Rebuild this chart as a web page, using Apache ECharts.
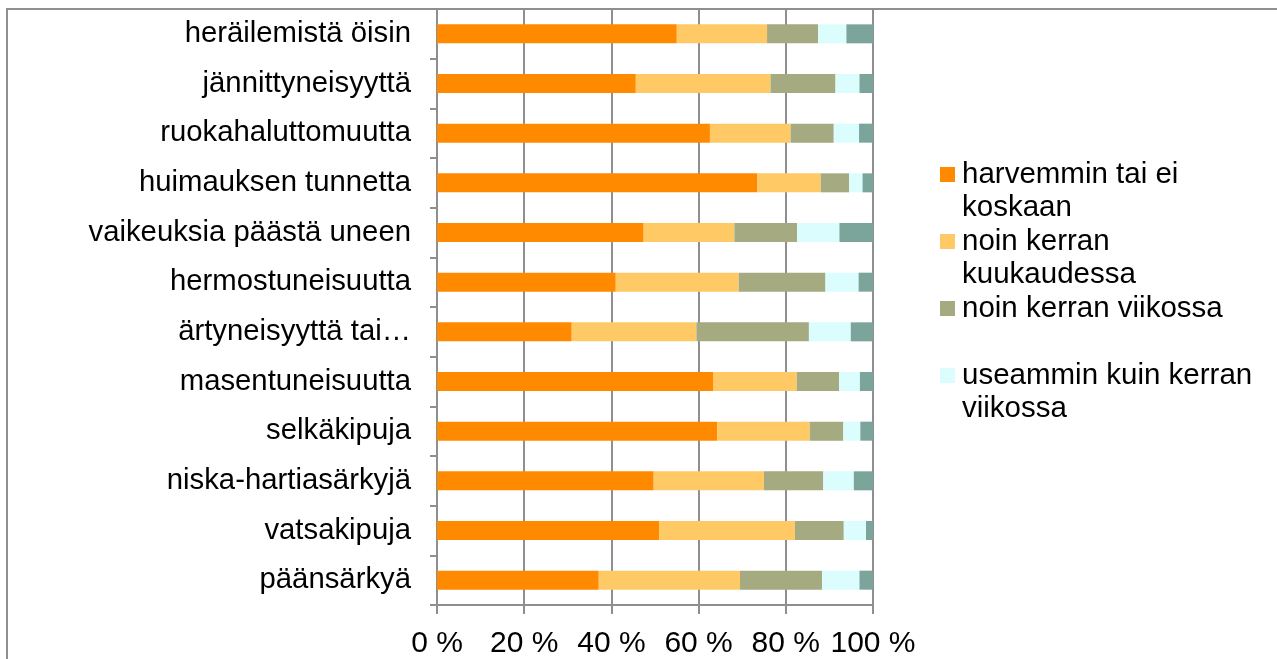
<!DOCTYPE html>
<html>
<head>
<meta charset="utf-8">
<script src="https://cdn.jsdelivr.net/npm/echarts@6/dist/echarts.min.js"></script>
<style>
html,body{margin:0;padding:0;background:#fff;}
#chart{width:1277px;height:659px;}
</style>
</head>
<body>
<div id="chart"></div>
<script>
const categories = ['heräilemistä öisin','jännittyneisyyttä','ruokahaluttomuutta','huimauksen tunnetta','vaikeuksia päästä uneen','hermostuneisuutta','ärtyneisyyttä tai…','masentuneisuutta','selkäkipuja','niska-hartiasärkyjä','vatsakipuja','päänsärkyä'];
const seriesNames = ['harvemmin tai ei koskaan','noin kerran kuukaudessa','noin kerran viikossa','useammin kuin kerran viikossa','päivittäin'];
const legendLabels = ['harvemmin tai ei\nkoskaan','noin kerran\nkuukaudessa','noin kerran viikossa\n ','useammin kuin kerran\nviikossa'];
const harvemmin = [55.0, 45.6, 62.6, 73.5, 47.4, 41.0, 30.9, 63.3, 64.3, 49.7, 51.0, 37.1];
const kuukaudessa = [20.7, 30.9, 18.5, 14.5, 20.8, 28.2, 28.6, 19.2, 21.2, 25.3, 31.1, 32.4];
const viikossa = [11.7, 14.9, 9.9, 6.5, 14.4, 19.9, 25.8, 9.7, 7.7, 13.6, 11.2, 18.8];
const useammin = [6.5, 5.5, 5.8, 3.1, 9.7, 7.6, 9.6, 4.8, 3.9, 7.0, 5.1, 8.6];
const paivittain = [6.1, 3.1, 3.2, 2.4, 7.7, 3.3, 5.1, 3.0, 2.9, 4.4, 1.6, 3.1];
const xTickLabels = ['0 %','20 %','40 %','60 %','80 %','100 %'];
const colors = ['#FF8A00','#FFCA66','#A5AA80','#DCFDFD','#7BA59A'];

const seriesData = [harvemmin, kuukaudessa, viikossa, useammin, paivittain];
const gray = '#8f8f8f';
const font = 'Liberation Sans, Arial, sans-serif';

const chart = echarts.init(document.getElementById('chart'));
chart.setOption({
  animation: false,
  textStyle: { fontFamily: font },
  grid: { left: 437, right: 404, top: 9, bottom: 53, containLabel: false },
  graphic: [
    { type: 'line', shape: { x1: 7, y1: 9, x2: 7, y2: 700 }, style: { stroke: gray, lineWidth: 2 }, z: 100 },
    { type: 'line', shape: { x1: 6, y1: 9, x2: 1300, y2: 9 }, style: { stroke: gray, lineWidth: 2 }, z: 100 }
  ],
  legend: {
    orient: 'vertical',
    left: 940,
    top: 158,
    padding: 0,
    itemGap: 1,
    itemWidth: 17,
    itemHeight: 66,
    icon: 'path://M0,9L15,9L15,24L0,24Z M0,0 M17,66',
    data: seriesNames.slice(0, 4),
    formatter: function (name) { return legendLabels[seriesNames.indexOf(name)]; },
    textStyle: { fontFamily: font, fontSize: 29.5, lineHeight: 33, color: '#000' }
  },
  xAxis: {
    type: 'value',
    min: 0, max: 100, interval: 20,
    axisLine: { show: true, lineStyle: { color: gray, width: 2 } },
    axisTick: { show: true, length: 9, lineStyle: { color: gray, width: 2 } },
    splitLine: { show: true, lineStyle: { color: gray, width: 2 } },
    axisLabel: {
      margin: 24,
      fontFamily: font, fontSize: 30, color: '#000',
      formatter: function (v) { return xTickLabels[Math.round(v / 20)]; }
    }
  },
  yAxis: {
    type: 'category',
    inverse: true,
    data: categories,
    axisLine: { show: true, lineStyle: { color: gray, width: 2 } },
    axisTick: { show: true, length: 7, lineStyle: { color: gray, width: 2 } },
    axisLabel: { margin: 26, fontFamily: font, fontSize: 29.3, color: '#000' }
  },
  series: seriesData.map(function (d, i) {
    return {
      name: seriesNames[i],
      type: 'bar',
      stack: 'total',
      barWidth: 19,
      data: d,
      itemStyle: { color: colors[i] }
    };
  })
});
</script>
</body>
</html>
